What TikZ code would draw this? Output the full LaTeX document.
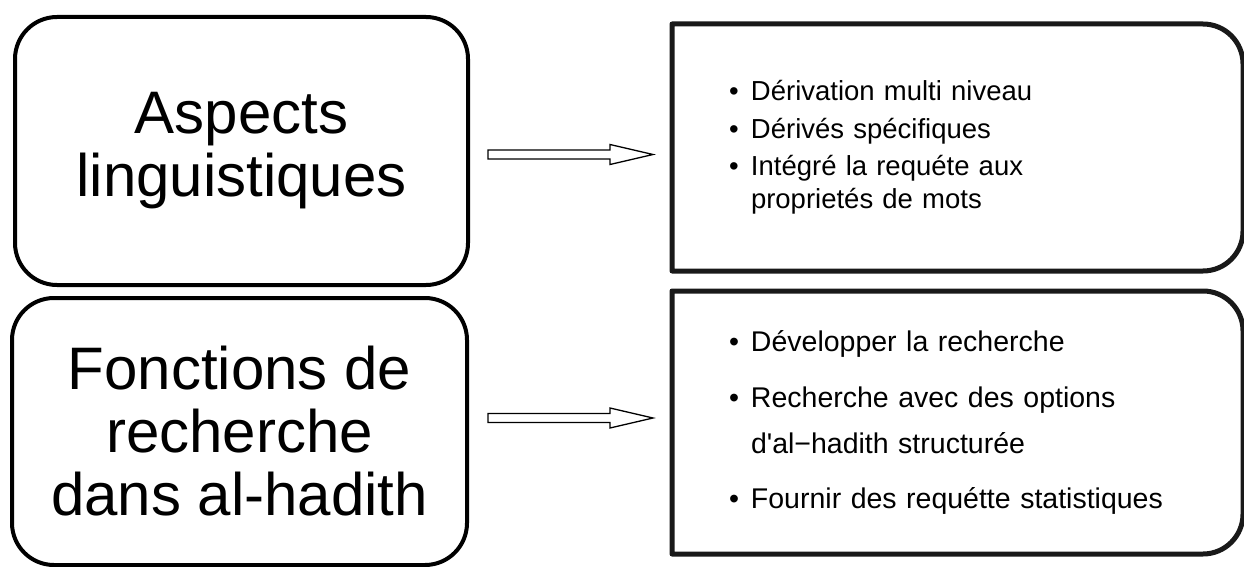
\documentclass[tikz,border=0pt]{standalone}
\usepackage{fontspec}
\setmainfont{Liberation Sans}
\usetikzlibrary{calc}
\tikzset{
  leftbox/.style={draw=black, line width=4pt, rounded corners=42pt, inner sep=0pt, outer sep=0pt,
    align=center, font=\fontsize{60}{63}\selectfont},
  rightbox/.style={draw=none, inner sep=0pt, outer sep=0pt, text width=457pt, align=left},
  rightborder/.style={draw=black!90, line width=5pt, line join=round},
  blockarrow/.style={draw=black, line width=1.3pt, fill=white, line join=miter},
}
\newcommand{\bul}{\makebox[22pt][l]{\textbullet}}
\newcommand{\ind}{\hspace*{22pt}}
\begin{document}
\begin{tikzpicture}[x=1pt,y=1pt]
\useasboundingbox (0,0) rectangle (1244,-567);
% left boxes
\node[leftbox, minimum width=453pt, minimum height=268pt] (l1) at (241.5,-151) {Aspects\\linguistiques};
\node[leftbox, minimum width=455pt, minimum height=267pt] (l2) at (239.5,-431.5) {Fonctions de\\recherche\\dans al-hadith};
% right boxes
\node[rightbox, minimum width=571pt, minimum height=247pt, font=\fontsize{27.5}{33}\selectfont] (r1) at (957.5,-147.5)
 {\bul Dérivation multi niveau\\[4.5pt]
  \bul Dérivés spécifiques\\[4.5pt]
  \bul Intégré la requéte aux\\
  \ind proprietés de mots};
\node[rightbox, minimum width=571pt, minimum height=263pt, font=\fontsize{28.5}{46}\selectfont] (r2) at (957.5,-422.5)
 {\bul Développer la recherche\\[9.5pt]
  \bul Recherche avec des options\\
  \ind d\textquotesingle al−hadith structurée\\[9.5pt]
  \bul Fournir des requétte statistiques};
\foreach \n in {r1,r2}{
  \draw[rightborder] (\n.north west) -- ([xshift=-40pt]\n.north east)
    arc[start angle=90, end angle=0, radius=40pt] -- ([yshift=40pt]\n.south east)
    arc[start angle=0, end angle=-90, radius=40pt] -- (\n.south west) -- cycle;
}
% arrows
\coordinate (a1s) at (488,-154.5);
\coordinate (a1e) at (653,-154.5);
\coordinate (a2s) at (488,-418);
\coordinate (a2e) at (653,-418);
\draw[blockarrow] (a1s) ++(0,4.5) -- ++(122,0) -- ++(0,5.5) -- (a1e) -- ++(-43,-10) -- ++(0,5.5) -- ++(-122,0) -- cycle;
\draw[blockarrow] (a2s) ++(0,4.5) -- ++(122,0) -- ++(0,5.5) -- (a2e) -- ++(-43,-10) -- ++(0,5.5) -- ++(-122,0) -- cycle;
\end{tikzpicture}
\end{document}
